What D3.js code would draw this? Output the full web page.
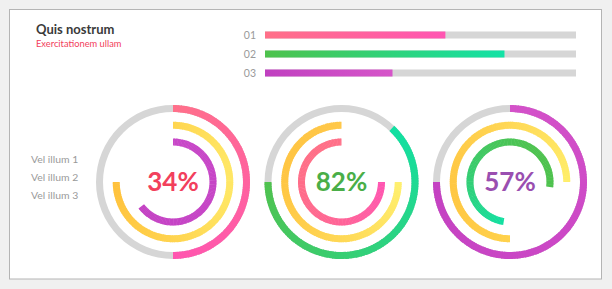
<!DOCTYPE html>
<html>
<head>
<meta charset="utf-8">
<script src="https://cdn.jsdelivr.net/npm/d3@7"></script>
<style>
  html, body { margin: 0; padding: 0; background: #f0f0f0; }
  svg { display: block; font-family: Lato, "Open Sans", sans-serif; }
</style>
</head>
<body>
<svg id="chart" width="612" height="289"></svg>
<script>
// ---------- data ----------
const title = "Quis nostrum";
const subtitle = "Exercitationem ullam";
const barLabels = ["01", "02", "03"];
const barValues = [0.58, 0.77, 0.41];
const barColors = [["#ff7088", "#ff55b2"], ["#4ec24c", "#12e2a6"], ["#c040c0", "#d655c9"]];
const legendLabels = ["Vel illum 1", "Vel illum 2", "Vel illum 3"];
const donutLabels = ["34%", "82%", "57%"];
const donutTextColors = ["#f2405c", "#4aae48", "#9a4fb0"];
// each donut: three rings, [start, end] as fractions of a full turn (clockwise from top)
const donutArcs = [
  [[0, 0.5], [0, 0.75], [0, 0.646]],
  [[0.12, 0.75], [0.25, 1.0], [0.25, 1.0]],
  [[0, 0.75], [0.5, 1.25], [0.525, 1.27]]
];
// colour stops along each arc, start -> end
const donutStops = [
  [["#ff708a", "#ff62a0", "#ff55b0"], ["#ffd54f", "#fff070", "#ffd24c", "#ffc13c"], ["#c848c8", "#c443c4"]],
  [["#12e0a2", "#26d68c", "#3ccc6c", "#50c24f"], ["#fff070", "#ffd856", "#ffc23e", "#ffc84a"], ["#ff55b2", "#ff6596", "#ff6f86", "#ff7088"]],
  [["#d452c9", "#cc48c6", "#c442c2"], ["#ffd24c", "#ffc23e", "#ffd857", "#ffee6a"], ["#12e0a2", "#38cc70", "#50c24f", "#4ec24e"]]
];

// ---------- drawing ----------
const svg = d3.select("#chart");
const W = 612, H = 289;
svg.append("rect").attr("width", W).attr("height", H).attr("fill", "#f0f0f0");
svg.append("rect").attr("x", 9.5).attr("y", 9.5).attr("width", 592).attr("height", 269.5)
  .attr("fill", "#ffffff").attr("stroke", "#b4b4b4").attr("stroke-width", 1);

svg.append("text").attr("x", 36).attr("y", 33.5).text(title)
  .attr("font-size", 13).attr("font-weight", 700).attr("fill", "#3a3a3a");
svg.append("text").attr("x", 36).attr("y", 46.5).text(subtitle)
  .attr("font-size", 9.3).attr("fill", "#f2405c");

// bars
const defs = svg.append("defs");
const xBar = d3.scaleLinear().domain([0, 1]).range([265, 576]);
const yBar = d3.scalePoint().domain(barLabels).range([35, 73]);
const barH = 7;
barLabels.forEach((lab, i) => {
  const g = defs.append("linearGradient").attr("id", "bg" + i)
    .attr("gradientUnits", "userSpaceOnUse")
    .attr("x1", xBar(0)).attr("x2", xBar(barValues[i])).attr("y1", 0).attr("y2", 0);
  g.append("stop").attr("offset", 0).attr("stop-color", barColors[i][0]);
  g.append("stop").attr("offset", 1).attr("stop-color", barColors[i][1]);
});
const bars = svg.append("g");
bars.selectAll("rect.track").data(barLabels).join("rect").attr("class", "track")
  .attr("x", xBar(0)).attr("y", d => yBar(d) - barH / 2)
  .attr("width", xBar(1) - xBar(0)).attr("height", barH).attr("fill", "#d6d6d6");
bars.selectAll("rect.fill").data(barLabels).join("rect").attr("class", "fill")
  .attr("x", xBar(0)).attr("y", d => yBar(d) - barH / 2)
  .attr("width", (d, i) => xBar(barValues[i]) - xBar(0)).attr("height", barH)
  .attr("fill", (d, i) => `url(#bg${i})`);
bars.selectAll("text").data(barLabels).join("text")
  .attr("x", 256).attr("y", d => yBar(d) + 3.7).attr("text-anchor", "end")
  .attr("font-size", 10.5).attr("fill", "#9a9a9a").text(d => d);

// legend
const yLeg = d3.scalePoint().domain(legendLabels).range([162.5, 198.5]);
svg.append("g").selectAll("text").data(legendLabels).join("text")
  .attr("x", 31).attr("y", d => yLeg(d))
  .attr("font-size", 10.4).attr("fill", "#9a9a9a").text(d => d);

// donuts
const xDonut = d3.scalePoint().domain(d3.range(donutLabels.length)).range([173, 510]);
const cy = 182;
const rRing = d3.scaleLinear().domain([0, 2]).range([73.5, 40]);
const angle = d3.scaleLinear().domain([0, 1]).range([0, 2 * Math.PI]);
const ringW = 7;
const arc = d3.arc();

donutArcs.forEach((rings, di) => {
  const g = svg.append("g").attr("transform", `translate(${xDonut(di)},${cy})`);
  // grey track for outer ring
  g.append("path").attr("d", arc({
    innerRadius: rRing(0) - ringW / 2, outerRadius: rRing(0) + ringW / 2,
    startAngle: 0, endAngle: 2 * Math.PI
  })).attr("fill", "#d6d6d6");
  rings.forEach((span, ri) => {
    const interp = d3.interpolateRgbBasis(donutStops[di][ri]);
    const a0 = angle(span[0]), a1 = angle(span[1]);
    const n = Math.max(2, Math.ceil((a1 - a0) / (Math.PI / 90)));
    const segs = d3.range(n).map(k => ({ k, t: (k + 0.5) / n }));
    g.selectAll(null).data(segs).join("path")
      .attr("d", s => arc({
        innerRadius: rRing(ri) - ringW / 2, outerRadius: rRing(ri) + ringW / 2,
        startAngle: a0 + (a1 - a0) * s.k / n,
        endAngle: Math.min(a1, a0 + (a1 - a0) * (s.k + 1) / n + 0.012)
      }))
      .attr("fill", s => interp(s.t));
  });
  g.append("text").attr("x", 0).attr("y", 9).attr("text-anchor", "middle")
    .attr("font-size", 26).attr("font-weight", 700)
    .attr("fill", donutTextColors[di]).text(donutLabels[di]);
});
</script>
</body>
</html>
